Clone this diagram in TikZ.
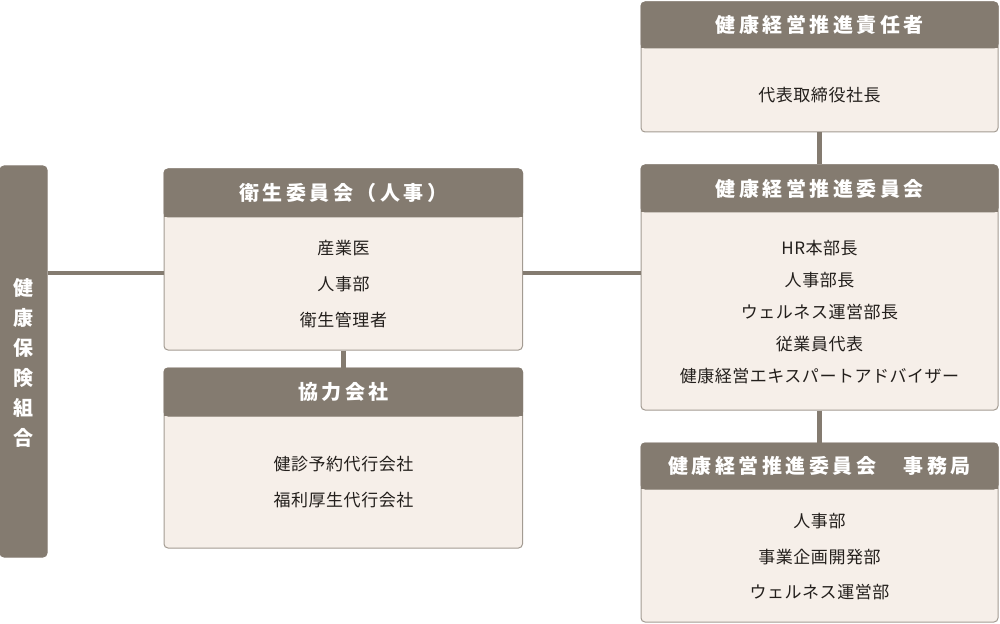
\documentclass[tikz,border=0pt]{standalone}
\usepackage{fontspec}
\setmainfont{Noto Sans CJK JP}
\newfontfamily\hdfont[LetterSpace=17.5]{Noto Sans CJK JP}
\newfontfamily\sidefont{Noto Sans CJK JP}
\newfontfamily\bdfont[LetterSpace=3]{Noto Sans CJK JP}
\usetikzlibrary{fit}
\definecolor{hdrcol}{HTML}{847B70}
\definecolor{bodycol}{HTML}{F6EFE9}
\definecolor{bordercol}{HTML}{A39B92}
\definecolor{txtcol}{HTML}{231F1C}
\tikzset{
  bodybox/.style={draw=bordercol, fill=bodycol, line width=0.75pt, rounded corners=3pt, inner sep=0pt},
  hdrbox/.style={draw=hdrcol, fill=hdrcol, line width=0.75pt, rounded corners=3pt, inner sep=0pt},
  hdtext/.style={text=white, font=\hdfont\bfseries\fontsize{15pt}{18pt}\selectfont, inner sep=0pt},
  bdtext/.style={text=txtcol, align=center, inner sep=0pt},
  conn/.style={draw=hdrcol, line width=3.4pt},
}
\newcommand\OrgBox[7]{%
  \node[bodybox, fit={(#2,#3) (#4,#6)}] (#1) {};
  \node[hdrbox, fit={(#2,#3) (#4,#5)}] (#1h) {};
  \fill[hdrcol] (#2,#5-6) rectangle (#4,#5);
  \node[hdtext] (#1t) at (#1h.center) {#7};
}
\begin{document}
\begin{tikzpicture}[x=0.75pt,y=-0.75pt]
\useasboundingbox (0,0) rectangle (1000,624);
\coordinate (hy) at (0,273);
% left bar
\node[hdrbox, fit={(0,166) (47,557)}] (lb) {};
\node[text=white, align=center, inner sep=0pt, font=\sidefont\bfseries\fontsize{15pt}{22.5pt}\selectfont] (lbt) at (23.5,363) {健\\康\\保\\険\\組\\合};
% boxes
\OrgBox{b1}{164}{169}{522.5}{217}{350}{衛生委員会（人事）}
\node[bdtext, font=\bdfont\fontsize{12.75pt}{27pt}\selectfont] (b1b) at (343.5,284.5) {産業医\\人事部\\衛生管理者};
\OrgBox{b2}{164}{368}{522.5}{416}{548}{協力会社}
\node[bdtext, font=\bdfont\fontsize{12.75pt}{27pt}\selectfont] (b2b) at (343.5,482.5) {健診予約代行会社\\福利厚生代行会社};
\OrgBox{b3}{641}{2}{998}{48}{132}{健康経営推進責任者}
\node[bdtext, font=\bdfont\fontsize{12.75pt}{27pt}\selectfont] (b3b) at (819.5,95.5) {代表取締役社長};
\OrgBox{b4}{641}{165}{998}{212}{410}{健康経営推進委員会}
\node[bdtext, font=\bdfont\fontsize{12.75pt}{24pt}\selectfont] (b4b) at (819.5,312.5) {HR本部長\\人事部長\\ウェルネス運営部長\\従業員代表\\健康経営エキスパートアドバイザー};
\OrgBox{b5}{641}{443}{998}{489}{622}{健康経営推進委員会\hspace{20.5pt}事務局}
\node[bdtext, font=\bdfont\fontsize{12.75pt}{26.6pt}\selectfont] (b5b) at (819.5,557) {人事部\\事業企画開発部\\ウェルネス運営部};
% connectors
\draw[conn] (lb.east |- hy) -- (b1.west |- hy);
\draw[conn] (b1.east |- hy) -- (b4.west |- hy);
\draw[conn] (b1.south) -- (b2.north);
\draw[conn] (b3.south) -- (b4.north);
\draw[conn] (b4.south) -- (b5.north);
\end{tikzpicture}
\end{document}
